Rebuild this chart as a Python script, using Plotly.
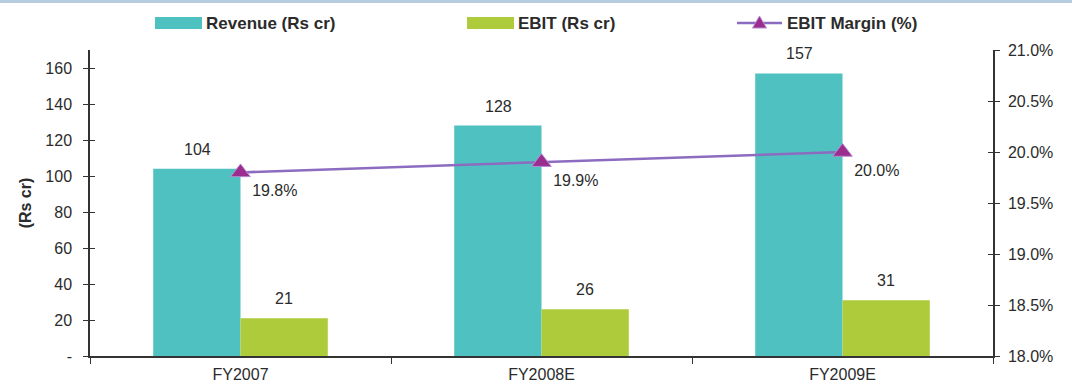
import plotly.graph_objects as go

# Financial summary, Rs crore and %
years = ["FY2007", "FY2008E", "FY2009E"]
revenue = [104, 128, 157]
ebit = [21, 26, 31]
ebit_margin = [19.8, 19.9, 20.0]

left_ticks = [0, 20, 40, 60, 80, 100, 120, 140, 160]
left_tick_text = ["-", "20", "40", "60", "80", "100", "120", "140", "160"]

TEAL = "#4FC1C0"
LIME = "#ADCB3A"
LINE_PURPLE = "#8C6CC0"
MARKER_PURPLE = "#9B2D8F"
MARKER_EDGE = "#B58CD0"
TEXT = "#2B2B2B"
AXIS = "#333333"
FONT = "Liberation Sans, Arial, sans-serif"

W, H = 1072, 385
plot_l, plot_r = 90, 993
plot_t, plot_b = 50, 356
plot_w = plot_r - plot_l
plot_h = plot_b - plot_t


def px_x(px):
    return (px - plot_l) / plot_w


def px_y(py):
    return 1 - (py - plot_t) / plot_h


fig = go.Figure()

fig.add_trace(go.Bar(
    x=years, y=revenue, name="Revenue (Rs cr)",
    marker=dict(color=TEAL, line=dict(width=0)),
    offsetgroup="rev", yaxis="y",
))
fig.add_trace(go.Bar(
    x=years, y=ebit, name="EBIT (Rs cr)",
    marker=dict(color=LIME, line=dict(width=0)),
    offsetgroup="ebit", yaxis="y",
))
fig.add_trace(go.Scatter(
    x=years, y=ebit_margin, name="EBIT Margin (%)",
    mode="lines+markers+text",
    line=dict(color=LINE_PURPLE, width=2.5),
    marker=dict(symbol="triangle-up", size=17, color=MARKER_PURPLE,
                line=dict(color=MARKER_EDGE, width=1)),
    text=[f"{v:.1f}%" for v in ebit_margin],
    textposition="bottom right",
    textfont=dict(family=FONT, size=16, color=TEXT),
    yaxis="y2", cliponaxis=False,
))

# Empty traces so the inward tick overlays get drawn
fig.add_trace(go.Scatter(x=[years[0]], y=[None], yaxis="y3", showlegend=False, hoverinfo="skip"))
fig.add_trace(go.Scatter(x=[years[0]], y=[None], yaxis="y5", showlegend=False, hoverinfo="skip"))

# Value labels above the bars
annotations = []
for yr, r, e in zip(years, revenue, ebit):
    for val, shift in ((r, -43.5), (e, 43.5)):
        annotations.append(dict(
            x=yr, y=val, xref="x", yref="y", text=str(val),
            showarrow=False, xshift=shift, yshift=9, yanchor="bottom",
            font=dict(family=FONT, size=16, color=TEXT),
        ))

# Legend row across the top
legend_font = dict(family=FONT, size=17, color=TEXT)
shapes = [
    dict(type="rect", xref="paper", yref="paper", x0=px_x(0), x1=px_x(W),
         y0=px_y(3), y1=px_y(0), line=dict(width=0), fillcolor="#B8CCE0"),
]
swatches = [(155, 202, TEAL, "Revenue (Rs cr)"), (467, 514, LIME, "EBIT (Rs cr)")]
for x0, x1, col, label in swatches:
    shapes.append(dict(type="rect", xref="paper", yref="paper",
                       x0=px_x(x0), x1=px_x(x1), y0=px_y(29), y1=px_y(17),
                       line=dict(width=0), fillcolor=col))
    annotations.append(dict(x=px_x(x1 + 2), y=px_y(23), xref="paper", yref="paper",
                            text=f"<b>{label}</b>", showarrow=False,
                            xanchor="left", yanchor="middle", font=legend_font))
shapes.append(dict(type="line", xref="paper", yref="paper",
                   x0=px_x(737), x1=px_x(782), y0=px_y(23), y1=px_y(23),
                   line=dict(color=LINE_PURPLE, width=2.5)))
tri_cx, tri_cy = 759.5, 23
shapes.append(dict(
    type="path", xref="paper", yref="paper",
    path=(f"M {px_x(tri_cx - 7)} {px_y(tri_cy + 5)} "
          f"L {px_x(tri_cx + 7)} {px_y(tri_cy + 5)} "
          f"L {px_x(tri_cx)} {px_y(tri_cy - 7)} Z"),
    fillcolor=MARKER_PURPLE, line=dict(color=MARKER_EDGE, width=1),
))
annotations.append(dict(x=px_x(785), y=px_y(23), xref="paper", yref="paper",
                        text="<b>EBIT Margin (%)</b>", showarrow=False,
                        xanchor="left", yanchor="middle", font=legend_font))

tick_font = dict(family=FONT, size=16, color=TEXT)

fig.update_layout(
    width=W, height=H,
    margin=dict(l=plot_l, r=W - plot_r, t=plot_t, b=H - plot_b),
    paper_bgcolor="white", plot_bgcolor="white",
    showlegend=False,
    barmode="group", bargap=0.42, bargroupgap=0,
    font=dict(family=FONT, color=TEXT),
    xaxis=dict(
        type="category", showline=True, linecolor=AXIS, linewidth=1.5,
        ticks="outside", ticklen=6, tickcolor=AXIS, tickson="boundaries",
        tickfont=tick_font, showgrid=False, zeroline=False,
        ticklabelstandoff=3, automargin=False,
    ),
    yaxis=dict(
        range=[0, 170], tickvals=left_ticks, ticktext=left_tick_text,
        showline=True, linecolor=AXIS, linewidth=1.5,
        ticks="outside", ticklen=5, tickcolor=AXIS, tickwidth=1.2,
        tickfont=tick_font, showgrid=False, zeroline=False,
        ticklabelstandoff=8,
        title=dict(text="<b>(Rs cr)</b>", font=dict(family=FONT, size=16, color=TEXT),
                   standoff=10),
        automargin=False,
    ),
    yaxis2=dict(
        range=[18, 21], dtick=0.5, tickformat=".1f", ticksuffix="%",
        overlaying="y", side="right",
        showline=True, linecolor=AXIS, linewidth=1.5,
        ticks="outside", ticklen=5, tickcolor=AXIS, tickwidth=1.2,
        tickfont=tick_font, showgrid=False, zeroline=False, automargin=False,
        ticklabelstandoff=5,
    ),
    yaxis3=dict(
        range=[0, 170], tickvals=left_ticks, overlaying="y", side="left",
        ticks="inside", ticklen=5, tickcolor=AXIS, tickwidth=1.2,
        showticklabels=False, showline=False, showgrid=False, zeroline=False,
        automargin=False,
    ),
    yaxis5=dict(
        range=[18, 21], dtick=0.5, overlaying="y", side="right",
        ticks="inside", ticklen=5, tickcolor=AXIS, tickwidth=1.2,
        showticklabels=False, showline=False, showgrid=False, zeroline=False,
        automargin=False,
    ),
    shapes=shapes,
    annotations=annotations,
)

fig.write_html("out.html")
